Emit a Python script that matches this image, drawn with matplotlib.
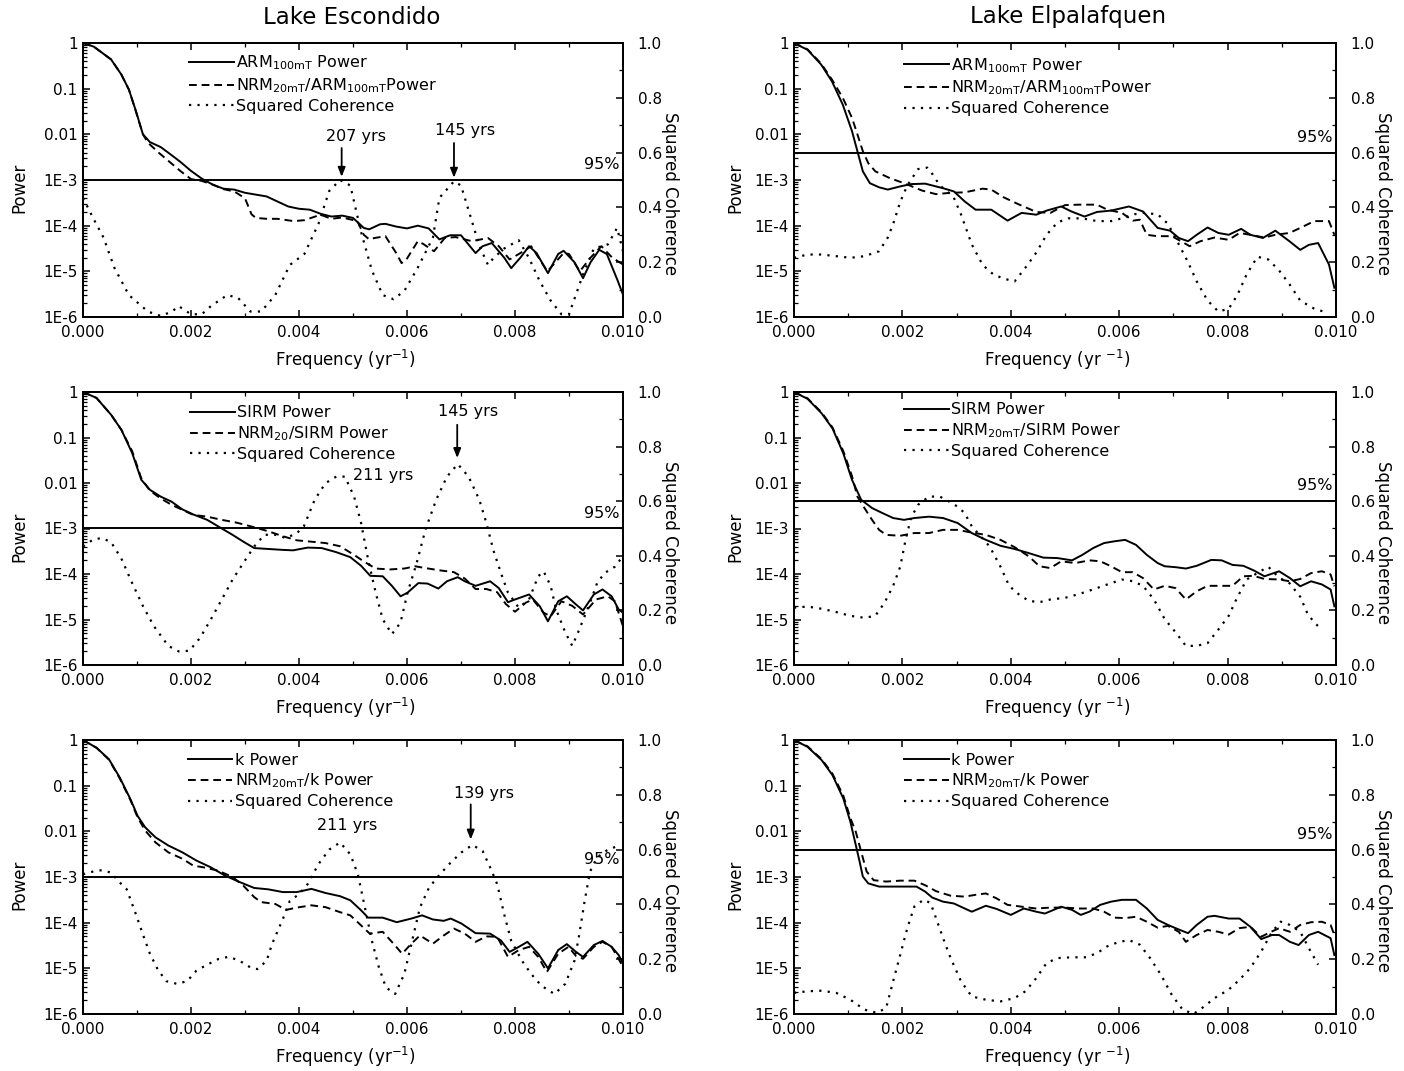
import numpy as np
import matplotlib
matplotlib.use('Agg')
import matplotlib.pyplot as plt
from matplotlib.ticker import (FixedLocator, FixedFormatter, MultipleLocator,
                               FormatStrFormatter, LogLocator, NullFormatter)

plt.rcParams['font.family'] = ['DejaVu Sans']
plt.rcParams['mathtext.fontset'] = 'dejavusans'

# ---------------- data (power given as log10 values, coherence linear) -------------
# Lake Escondido, ARM panel
esc_arm_f = [0, 0.0002, 0.00052, 0.00071, 0.00085, 0.00098, 0.00111, 0.00124, 0.00144, 0.0016,
             0.0018, 0.002, 0.0022, 0.0024, 0.0026, 0.0028, 0.003, 0.0032, 0.0034, 0.0036,
             0.0038, 0.004, 0.0042, 0.0044, 0.0046, 0.0048, 0.005, 0.0052, 0.0053, 0.0055,
             0.0056, 0.0058, 0.006, 0.0062, 0.0064, 0.0066, 0.0068, 0.007, 0.0072, 0.00727,
             0.0074, 0.00757, 0.0078, 0.00793, 0.0081, 0.00826, 0.0084, 0.00861, 0.0088, 0.0089,
             0.0091, 0.00926, 0.0094, 0.00956, 0.0097, 0.0099, 0.01]
esc_arm_logp = [0, -0.08, -0.36, -0.69, -1.02, -1.49, -2.0, -2.17, -2.28, -2.42,
                -2.6, -2.8, -2.97, -3.1, -3.19, -3.21, -3.28, -3.32, -3.36, -3.47,
                -3.58, -3.63, -3.65, -3.74, -3.8, -3.78, -3.83, -4.05, -4.08, -3.97,
                -3.96, -4.02, -4.06, -4.0, -4.06, -4.3, -4.21, -4.21, -4.5, -4.6,
                -4.45, -4.38, -4.7, -4.93, -4.7, -4.45, -4.6, -5.04, -4.62, -4.55,
                -4.8, -5.15, -4.8, -4.53, -4.62, -5.2, -5.51]
esc_nrmarm_f = [0, 0.0002, 0.00052, 0.00071, 0.00085, 0.00098, 0.00111, 0.0012, 0.0014, 0.0016,
                0.0018, 0.002, 0.0022, 0.0024, 0.0026, 0.0028, 0.003, 0.00312, 0.0032, 0.0034,
                0.0036, 0.0039, 0.0041, 0.0044, 0.0046, 0.0048, 0.00508, 0.0052, 0.0053, 0.0054,
                0.0056, 0.0058, 0.0059, 0.006, 0.0062, 0.0063, 0.0065, 0.0067, 0.0069, 0.0072,
                0.0075, 0.0077, 0.0079, 0.0081, 0.0083, 0.0086, 0.0089, 0.009, 0.0092, 0.0094,
                0.0096, 0.0098, 0.01]
esc_nrmarm_logp = [0, -0.08, -0.36, -0.69, -1.02, -1.5, -2.0, -2.18, -2.4, -2.6,
                   -2.8, -2.98, -3.02, -3.1, -3.2, -3.25, -3.4, -3.75, -3.83, -3.85,
                   -3.85, -3.9, -3.88, -3.76, -3.85, -3.82, -3.9, -4.2, -4.3, -4.27,
                   -4.23, -4.6, -4.82, -4.72, -4.34, -4.4, -4.56, -4.27, -4.25, -4.34,
                   -4.27, -4.45, -4.74, -4.6, -4.45, -5.0, -4.6, -4.62, -5.0, -4.7,
                   -4.45, -4.7, -4.85]
esc_arm_coh_f = [0, 0.00019, 0.00038, 0.00058, 0.00085, 0.00105, 0.0012, 0.00144, 0.00165, 0.00177,
                 0.002, 0.0022, 0.00237, 0.00267, 0.00287, 0.0031, 0.0033, 0.00356, 0.00383, 0.0041,
                 0.00436, 0.00456, 0.00476, 0.00495, 0.00515, 0.00535, 0.00555, 0.00575, 0.00595, 0.0062,
                 0.00648, 0.0066, 0.00687, 0.007, 0.00714, 0.00734, 0.0075, 0.0076, 0.0078, 0.00807,
                 0.00826, 0.00846, 0.00866, 0.00886, 0.009, 0.00926, 0.00946, 0.00972, 0.00989, 0.01]
esc_arm_coh = [0.435, 0.36, 0.29, 0.18, 0.08, 0.046, 0.02, 0.004, 0.02, 0.04,
               0.01, 0.01, 0.04, 0.08, 0.07, 0.02, 0.02, 0.08, 0.19, 0.23,
               0.34, 0.46, 0.5, 0.48, 0.31, 0.17, 0.08, 0.065, 0.095, 0.18,
               0.29, 0.435, 0.495, 0.48, 0.39, 0.26, 0.19, 0.215, 0.25, 0.28,
               0.215, 0.13, 0.06, 0.01, 0.01, 0.155, 0.25, 0.265, 0.325, 0.24]

# Lake Elpalafquen, ARM panel
elp_arm_f = [0, 0.00025, 0.0005, 0.0007, 0.0009, 0.00107, 0.00117, 0.00127, 0.0014, 0.00157,
             0.00173, 0.00196, 0.00216, 0.00242, 0.00275, 0.00295, 0.00315, 0.00335, 0.00364, 0.00394,
             0.0042, 0.00447, 0.00466, 0.00493, 0.00512, 0.00536, 0.00559, 0.00585, 0.00618, 0.00644,
             0.00671, 0.00694, 0.0071, 0.00727, 0.00743, 0.00763, 0.00783, 0.00802, 0.00825, 0.00842,
             0.00865, 0.00888, 0.00914, 0.00934, 0.0095, 0.00967, 0.00987, 0.00997]
elp_arm_logp = [0, -0.15, -0.47, -0.84, -1.35, -1.93, -2.37, -2.81, -3.07, -3.16,
                -3.21, -3.14, -3.09, -3.08, -3.18, -3.25, -3.47, -3.65, -3.65, -3.89,
                -3.72, -3.76, -3.67, -3.58, -3.69, -3.8, -3.7, -3.67, -3.58, -3.69,
                -4.05, -4.11, -4.27, -4.34, -4.2, -4.04, -4.16, -4.2, -4.07, -4.2,
                -4.27, -4.11, -4.34, -4.53, -4.42, -4.38, -4.85, -5.36]
elp_nrmarm_f = [0, 0.00025, 0.0005, 0.0007, 0.0009, 0.00107, 0.00117, 0.00127, 0.00137, 0.0015,
                0.00177, 0.00203, 0.00236, 0.00262, 0.00289, 0.00315, 0.00348, 0.00364, 0.00387, 0.00414,
                0.00447, 0.00473, 0.005, 0.00526, 0.00559, 0.00578, 0.00605, 0.00625, 0.00638, 0.00651,
                0.0067, 0.00697, 0.00717, 0.0073, 0.0075, 0.00776, 0.00802, 0.00822, 0.00842, 0.00868,
                0.00888, 0.00914, 0.00934, 0.0096, 0.00987, 0.00997]
elp_nrmarm_logp = [0, -0.14, -0.45, -0.8, -1.2, -1.64, -2.0, -2.37, -2.63, -2.81,
                   -2.96, -3.07, -3.23, -3.31, -3.28, -3.27, -3.19, -3.21, -3.38, -3.53,
                   -3.7, -3.72, -3.55, -3.54, -3.54, -3.65, -3.72, -3.89, -3.87, -4.2,
                   -4.23, -4.23, -4.36, -4.45, -4.34, -4.26, -4.31, -4.16, -4.2, -4.26,
                   -4.2, -4.16, -4.05, -3.9, -3.9, -4.2]
elp_arm_coh_f = [0, 0.00025, 0.0005, 0.00078, 0.00104, 0.0013, 0.00157, 0.00173, 0.00183, 0.00196,
                 0.00209, 0.00229, 0.00246, 0.00256, 0.00269, 0.00282, 0.00295, 0.00308, 0.00328, 0.00348,
                 0.00368, 0.00387, 0.00407, 0.00427, 0.00447, 0.00466, 0.00486, 0.00506, 0.00532, 0.00559,
                 0.00585, 0.00605, 0.00628, 0.00644, 0.00671, 0.0069, 0.0071, 0.00727, 0.00743, 0.00763,
                 0.00783, 0.00802, 0.00818, 0.00835, 0.00855, 0.00875, 0.00895, 0.00914, 0.00934, 0.0096,
                 0.00977]
elp_arm_coh = [0.216, 0.228, 0.228, 0.222, 0.216, 0.222, 0.24, 0.29, 0.34, 0.42,
               0.48, 0.54, 0.545, 0.52, 0.48, 0.46, 0.435, 0.375, 0.265, 0.19,
               0.155, 0.14, 0.13, 0.18, 0.235, 0.30, 0.345, 0.36, 0.36, 0.35,
               0.35, 0.36, 0.375, 0.38, 0.375, 0.34, 0.265, 0.2, 0.13, 0.06,
               0.02, 0.03, 0.08, 0.155, 0.22, 0.21, 0.17, 0.12, 0.06, 0.03,
               0.02]

# Lake Escondido, SIRM panel
esc_sirm_f = [0, 0.00025, 0.00052, 0.00071, 0.00091, 0.00108, 0.00124, 0.00144, 0.00164, 0.00184,
              0.00204, 0.0023, 0.00257, 0.00277, 0.00297, 0.00317, 0.00343, 0.0037, 0.00389, 0.00416,
              0.00442, 0.00469, 0.00495, 0.00515, 0.00532, 0.00555, 0.00572, 0.00588, 0.00601, 0.00621,
              0.00638, 0.00658, 0.00674, 0.00694, 0.00707, 0.00727, 0.00754, 0.0077, 0.00787, 0.008,
              0.00826, 0.00846, 0.00861, 0.0088, 0.00896, 0.00913, 0.00926, 0.00946, 0.00962, 0.00979,
              0.00992, 0.01]
esc_sirm_logp = [0, -0.13, -0.5, -0.83, -1.34, -1.93, -2.15, -2.3, -2.41, -2.58,
                 -2.69, -2.81, -3.0, -3.14, -3.29, -3.43, -3.45, -3.47, -3.48, -3.42,
                 -3.43, -3.52, -3.63, -3.82, -4.04, -4.05, -4.26, -4.49, -4.41, -4.2,
                 -4.21, -4.32, -4.16, -4.07, -4.16, -4.26, -4.16, -4.31, -4.62, -4.56,
                 -4.45, -4.71, -5.04, -4.6, -4.49, -4.67, -4.8, -4.45, -4.34, -4.49,
                 -4.78, -4.85]
esc_nrmsirm_f = [0, 0.00025, 0.00052, 0.00071, 0.00091, 0.00108, 0.00124, 0.00144, 0.00164, 0.00184,
                 0.00204, 0.0023, 0.00257, 0.00284, 0.0031, 0.00343, 0.0037, 0.00396, 0.00423, 0.00449,
                 0.00476, 0.00502, 0.00522, 0.00542, 0.00568, 0.00595, 0.00615, 0.00634, 0.00661, 0.00687,
                 0.00707, 0.00727, 0.00747, 0.00767, 0.00783, 0.008, 0.0082, 0.00833, 0.00853, 0.00866,
                 0.00886, 0.00906, 0.00926, 0.0095, 0.00972, 0.00985, 0.01]
esc_nrmsirm_logp = [0, -0.13, -0.5, -0.83, -1.3, -1.9, -2.17, -2.34, -2.48, -2.59,
                    -2.7, -2.74, -2.81, -2.87, -2.95, -3.06, -3.17, -3.26, -3.29, -3.32,
                    -3.39, -3.58, -3.74, -3.88, -3.9, -3.88, -3.83, -3.87, -3.92, -3.96,
                    -4.1, -4.33, -4.33, -4.4, -4.66, -4.83, -4.63, -4.56, -4.85, -4.93,
                    -4.6, -4.7, -4.89, -4.56, -4.49, -4.6, -5.15]
esc_sirm_coh_f = [0, 0.00019, 0.00035, 0.00052, 0.00071, 0.00091, 0.00111, 0.00131, 0.00158, 0.00177,
                  0.00197, 0.00217, 0.00237, 0.00257, 0.00277, 0.00297, 0.00317, 0.00336, 0.00356, 0.00376,
                  0.00396, 0.00409, 0.00429, 0.00449, 0.00469, 0.00485, 0.00502, 0.00515, 0.00528, 0.00542,
                  0.00555, 0.00572, 0.00588, 0.00601, 0.00618, 0.00634, 0.00654, 0.00674, 0.00694, 0.00714,
                  0.00734, 0.00747, 0.0076, 0.00774, 0.00787, 0.00807, 0.00826, 0.00843, 0.00853, 0.00866,
                  0.00876, 0.00893, 0.00906, 0.00919, 0.00939, 0.00952, 0.00966, 0.00985, 0.00995]
esc_sirm_coh = [0.434, 0.46, 0.465, 0.45, 0.39, 0.30, 0.216, 0.143, 0.07, 0.05,
                0.052, 0.1, 0.168, 0.24, 0.313, 0.374, 0.434, 0.477, 0.477, 0.465,
                0.483, 0.508, 0.605, 0.666, 0.69, 0.69, 0.617, 0.52, 0.386, 0.265,
                0.168, 0.113, 0.155, 0.265, 0.374, 0.495, 0.605, 0.69, 0.736, 0.69,
                0.605, 0.52, 0.42, 0.337, 0.265, 0.21, 0.24, 0.325, 0.343, 0.29,
                0.204, 0.12, 0.07, 0.13, 0.228, 0.3, 0.337, 0.36, 0.386]

# Lake Elpalafquen, SIRM panel
elp_sirm_f = [0, 0.00025, 0.00051, 0.00071, 0.00091, 0.00107, 0.00124, 0.00144, 0.00163, 0.00183,
              0.00203, 0.00222, 0.00249, 0.00275, 0.00302, 0.00328, 0.00354, 0.00381, 0.00407, 0.00433,
              0.0046, 0.00486, 0.00513, 0.00532, 0.00552, 0.00572, 0.00592, 0.00611, 0.00631, 0.00651,
              0.00671, 0.00684, 0.00704, 0.00723, 0.00743, 0.0077, 0.00789, 0.00809, 0.00829, 0.00848,
              0.00868, 0.00895, 0.00915, 0.00934, 0.00954, 0.00974, 0.0099, 0.00997]
elp_sirm_logp = [0, -0.15, -0.47, -0.8, -1.35, -1.93, -2.37, -2.55, -2.66, -2.77,
                 -2.81, -2.77, -2.74, -2.77, -2.88, -3.1, -3.25, -3.38, -3.45, -3.54,
                 -3.64, -3.65, -3.7, -3.58, -3.43, -3.32, -3.28, -3.25, -3.36, -3.58,
                 -3.76, -3.83, -3.85, -3.88, -3.82, -3.69, -3.7, -3.8, -3.82, -3.92,
                 -4.05, -3.94, -4.09, -4.27, -4.16, -4.23, -4.34, -4.71]
elp_nrmsirm_f = [0, 0.00025, 0.00051, 0.00071, 0.00091, 0.00107, 0.00117, 0.0013, 0.00144, 0.00157,
                 0.0017, 0.00196, 0.00222, 0.00249, 0.00275, 0.00302, 0.00328, 0.00354, 0.00381, 0.00407,
                 0.00433, 0.00453, 0.00473, 0.00493, 0.00519, 0.00545, 0.00565, 0.00585, 0.00605, 0.00625,
                 0.00644, 0.00664, 0.00684, 0.00704, 0.00723, 0.00743, 0.00763, 0.00783, 0.00809, 0.00829,
                 0.00848, 0.00868, 0.00895, 0.00915, 0.00934, 0.00954, 0.00974, 0.0099, 0.00997]
elp_nrmsirm_logp = [0, -0.14, -0.45, -0.78, -1.3, -1.85, -2.3, -2.55, -2.81, -3.03,
                    -3.14, -3.16, -3.1, -3.1, -3.03, -3.03, -3.09, -3.14, -3.25, -3.41,
                    -3.61, -3.83, -3.87, -3.72, -3.76, -3.7, -3.72, -3.83, -3.96, -3.96,
                    -4.09, -4.34, -4.26, -4.31, -4.56, -4.38, -4.26, -4.26, -4.26, -4.05,
                    -4.04, -4.11, -4.12, -4.16, -4.11, -3.98, -3.94, -4.01, -4.27]
elp_sirm_coh_f = [0, 0.00025, 0.00051, 0.00078, 0.00104, 0.0013, 0.0015, 0.00167, 0.00183, 0.00196,
                  0.00206, 0.00216, 0.00229, 0.00249, 0.00269, 0.00285, 0.00302, 0.00315, 0.00328, 0.00345,
                  0.00361, 0.00381, 0.00397, 0.00414, 0.00433, 0.00453, 0.00473, 0.005, 0.00526, 0.00552,
                  0.00578, 0.00605, 0.00625, 0.00644, 0.00664, 0.00684, 0.00704, 0.00723, 0.00743, 0.00763,
                  0.00783, 0.00802, 0.00816, 0.00835, 0.00855, 0.00875, 0.00895, 0.00914, 0.00934, 0.00947,
                  0.0096, 0.00974]
elp_sirm_coh = [0.21, 0.214, 0.206, 0.194, 0.18, 0.173, 0.18, 0.228, 0.29, 0.36,
                0.46, 0.54, 0.587, 0.617, 0.617, 0.6, 0.58, 0.556, 0.508, 0.47,
                0.434, 0.36, 0.29, 0.26, 0.235, 0.23, 0.24, 0.246, 0.26, 0.277,
                0.295, 0.313, 0.307, 0.29, 0.24, 0.168, 0.12, 0.07, 0.07, 0.08,
                0.13, 0.18, 0.24, 0.313, 0.337, 0.36, 0.32, 0.3, 0.25, 0.19,
                0.155, 0.13]

# Lake Escondido, k panel
esc_k_f = [0, 0.00025, 0.00048, 0.00068, 0.00088, 0.00101, 0.00115, 0.00134, 0.00158, 0.00184,
           0.0021, 0.00237, 0.00263, 0.0029, 0.00317, 0.00343, 0.0037, 0.00396, 0.00423, 0.00449,
           0.00476, 0.00495, 0.00515, 0.00528, 0.00555, 0.00581, 0.00608, 0.00628, 0.00648, 0.00668,
           0.00681, 0.00701, 0.00727, 0.00754, 0.00774, 0.0079, 0.00807, 0.00823, 0.00843, 0.00861,
           0.0088, 0.00896, 0.00913, 0.00926, 0.00946, 0.00962, 0.00979, 0.00992, 0.01]
esc_k_logp = [0, -0.17, -0.42, -0.82, -1.3, -1.66, -1.91, -2.13, -2.31, -2.46,
              -2.64, -2.79, -2.97, -3.11, -3.24, -3.27, -3.33, -3.33, -3.26, -3.35,
              -3.42, -3.51, -3.73, -3.89, -3.89, -3.99, -3.91, -3.84, -3.93, -3.96,
              -3.91, -4.02, -4.23, -4.24, -4.39, -4.64, -4.53, -4.42, -4.68, -5.0,
              -4.6, -4.47, -4.64, -4.75, -4.49, -4.4, -4.53, -4.71, -4.89]
esc_nrmk_f = [0, 0.00025, 0.00048, 0.00068, 0.00088, 0.00101, 0.00115, 0.00134, 0.00158, 0.00184,
              0.00204, 0.00224, 0.0025, 0.00277, 0.00297, 0.00317, 0.0033, 0.00356, 0.00376, 0.00396,
              0.00423, 0.00449, 0.00476, 0.00495, 0.00515, 0.00531, 0.00555, 0.00575, 0.00591, 0.00608,
              0.00624, 0.00648, 0.00668, 0.00687, 0.00707, 0.00727, 0.00747, 0.00767, 0.00787, 0.00807,
              0.00826, 0.00843, 0.00859, 0.0088, 0.00899, 0.00913, 0.00926, 0.00946, 0.00962, 0.00979,
              0.00995, 0.01]
esc_nrmk_logp = [0, -0.17, -0.43, -0.84, -1.32, -1.69, -1.98, -2.24, -2.46, -2.6,
                 -2.75, -2.79, -2.86, -3.0, -3.19, -3.44, -3.55, -3.59, -3.72, -3.67,
                 -3.62, -3.66, -3.77, -3.84, -4.06, -4.24, -4.2, -4.46, -4.68, -4.46,
                 -4.28, -4.46, -4.28, -4.13, -4.24, -4.42, -4.3, -4.31, -4.75, -4.6,
                 -4.53, -4.75, -5.08, -4.68, -4.53, -4.73, -4.79, -4.53, -4.42, -4.53,
                 -4.86, -4.97]
esc_k_coh_f = [0, 0.00019, 0.00035, 0.00052, 0.00065, 0.00081, 0.00098, 0.00111, 0.00124, 0.00138,
               0.00154, 0.00174, 0.00193, 0.0021, 0.0023, 0.0025, 0.0027, 0.0029, 0.0031, 0.00323,
               0.0034, 0.0035, 0.0037, 0.00383, 0.004, 0.00416, 0.00436, 0.00456, 0.00476, 0.00495,
               0.00509, 0.00522, 0.00535, 0.00548, 0.00561, 0.00578, 0.00595, 0.00611, 0.00624, 0.00641,
               0.00661, 0.00681, 0.00701, 0.00721, 0.0074, 0.00754, 0.00767, 0.0078, 0.00793, 0.00813,
               0.0083, 0.00849, 0.00873, 0.00893, 0.0091, 0.00919, 0.00929, 0.00939, 0.00952, 0.00972,
               0.00992]
esc_k_coh = [0.51, 0.52, 0.525, 0.516, 0.486, 0.455, 0.364, 0.29, 0.22, 0.164,
             0.12, 0.11, 0.12, 0.158, 0.18, 0.2, 0.209, 0.194, 0.17, 0.164,
             0.194, 0.255, 0.346, 0.413, 0.437, 0.474, 0.547, 0.6, 0.626, 0.583,
             0.51, 0.389, 0.267, 0.17, 0.097, 0.073, 0.146, 0.28, 0.389, 0.462,
             0.51, 0.553, 0.59, 0.617, 0.595, 0.535, 0.474, 0.364, 0.267, 0.194,
             0.146, 0.103, 0.073, 0.11, 0.194, 0.29, 0.413, 0.52, 0.571, 0.6,
             0.614]

# Lake Elpalafquen, k panel
elp_k_f = [0, 0.00025, 0.00051, 0.00071, 0.00091, 0.00104, 0.00114, 0.00121, 0.00127, 0.00137,
           0.00157, 0.00183, 0.00209, 0.00226, 0.00242, 0.00255, 0.00275, 0.00295, 0.00315, 0.00328,
           0.00354, 0.00374, 0.004, 0.00424, 0.00447, 0.00463, 0.00493, 0.00513, 0.00529, 0.00545,
           0.00565, 0.00585, 0.00605, 0.00631, 0.00651, 0.00671, 0.0069, 0.0071, 0.00727, 0.00743,
           0.00763, 0.00776, 0.00802, 0.00822, 0.00842, 0.00862, 0.00882, 0.00895, 0.00915, 0.00931,
           0.0095, 0.00967, 0.0099, 0.00997]
elp_k_logp = [0, -0.15, -0.44, -0.77, -1.28, -1.79, -2.3, -2.66, -2.99, -3.14,
              -3.21, -3.21, -3.21, -3.21, -3.32, -3.45, -3.54, -3.58, -3.69, -3.76,
              -3.63, -3.7, -3.83, -3.69, -3.76, -3.8, -3.65, -3.72, -3.83, -3.76,
              -3.61, -3.54, -3.5, -3.5, -3.69, -3.94, -4.05, -4.15, -4.23, -4.05,
              -3.87, -3.85, -3.91, -3.91, -4.09, -4.36, -4.27, -4.27, -4.42, -4.49,
              -4.27, -4.2, -4.34, -4.71]
elp_nrmk_f = [0, 0.00025, 0.00051, 0.00071, 0.00091, 0.00104, 0.00114, 0.00124, 0.00134, 0.00147,
              0.0017, 0.00196, 0.00222, 0.00242, 0.00262, 0.00289, 0.00315, 0.00335, 0.00354, 0.00374,
              0.00394, 0.0042, 0.00447, 0.00473, 0.005, 0.00526, 0.00552, 0.00572, 0.00592, 0.00611,
              0.00631, 0.00651, 0.00671, 0.0069, 0.0071, 0.00723, 0.00743, 0.00763, 0.00783, 0.00802,
              0.00822, 0.00842, 0.00862, 0.00875, 0.00895, 0.00915, 0.00934, 0.00954, 0.00974, 0.0099,
              0.00997]
elp_nrmk_logp = [0, -0.14, -0.42, -0.74, -1.22, -1.71, -2.01, -2.45, -2.88, -3.07,
                 -3.1, -3.08, -3.08, -3.18, -3.31, -3.41, -3.43, -3.39, -3.36, -3.47,
                 -3.61, -3.65, -3.69, -3.67, -3.67, -3.69, -3.69, -3.76, -3.89, -3.9,
                 -3.87, -3.98, -4.11, -4.07, -4.2, -4.42, -4.27, -4.16, -4.2, -4.26,
                 -4.12, -4.09, -4.31, -4.23, -4.12, -4.2, -4.05, -3.99, -3.98, -4.05,
                 -4.27]
elp_k_coh_f = [0, 0.00025, 0.00051, 0.00078, 0.00104, 0.0013, 0.00153, 0.0017, 0.00183, 0.00196,
               0.00209, 0.00222, 0.00239, 0.00252, 0.00262, 0.00275, 0.00289, 0.00308, 0.00328, 0.00354,
               0.00381, 0.00407, 0.00427, 0.00447, 0.00466, 0.00486, 0.00513, 0.00539, 0.00559, 0.00578,
               0.00598, 0.00618, 0.00638, 0.00657, 0.00677, 0.00697, 0.00717, 0.00737, 0.00753, 0.00776,
               0.00802, 0.00822, 0.00842, 0.00862, 0.00882, 0.00898, 0.00915, 0.00934, 0.0095, 0.00967]
elp_k_coh = [0.077, 0.083, 0.085, 0.077, 0.052, 0.016, 0.004, 0.022, 0.12, 0.216,
             0.313, 0.392, 0.417, 0.405, 0.35, 0.277, 0.204, 0.12, 0.064, 0.052,
             0.046, 0.058, 0.083, 0.131, 0.186, 0.204, 0.207, 0.207, 0.222, 0.247,
             0.262, 0.27, 0.253, 0.204, 0.143, 0.07, 0.016, 0.0, 0.022, 0.058,
             0.089, 0.125, 0.168, 0.228, 0.3, 0.337, 0.325, 0.3, 0.24, 0.18]

# 95% significance levels of squared coherence
esc_sig95 = 0.5
elp_sig95 = 0.6

# tick labels
power_ticks = [1, 0.1, 0.01, 1e-3, 1e-4, 1e-5, 1e-6]
power_ticklabels = ['1', '0.1', '0.01', '1E-3', '1E-4', '1E-5', '1E-6']

titles = ['Lake Escondido', 'Lake Elpalafquen']

# ---------------- figure ----------------
W, H = 1404, 1071
fig = plt.figure(figsize=(W / 100, H / 100), dpi=100)
fig.patch.set_facecolor('white')


def px_rect(x0, x1, y0, y1):
    return [x0 / W, 1 - y1 / H, (x1 - x0) / W, (y1 - y0) / H]


col_x = [(83, 623), (794, 1336)]
row_y = [(43, 317), (392, 665), (740, 1014)]

FS_TICK = 11
FS_LEG = 11.5
FS_LAB = 12


def draw_panel(col, row, sf, sv, df, dv, cf, cv, sig, labels, annots,
               xlabel, leg_anchor, pct_y):
    x0, x1 = col_x[col]
    y0, y1 = row_y[row]
    ax = fig.add_axes(px_rect(x0, x1, y0, y1))
    ax.set_yscale('log')
    ax.set_xlim(0, 0.010)
    ax.set_ylim(1e-6, 1)
    ax2 = ax.twinx()
    ax2.set_ylim(0, 1)

    l1, = ax.plot(sf, 10.0 ** np.asarray(sv), color='k', lw=1.4, ls='-')
    l2, = ax.plot(df, 10.0 ** np.asarray(dv), color='k', lw=1.4, ls=(0, (4, 2.5)))
    l3, = ax2.plot(cf, cv, color='k', lw=1.6, ls=(0, (1, 2.8)))
    ax2.axhline(sig, color='k', lw=1.4)

    # ticks
    ax.yaxis.set_major_locator(FixedLocator(power_ticks))
    ax.yaxis.set_major_formatter(FixedFormatter(power_ticklabels))
    ax.yaxis.set_minor_locator(LogLocator(base=10, subs=np.arange(2, 10)))
    ax.yaxis.set_minor_formatter(NullFormatter())
    ax.xaxis.set_major_locator(MultipleLocator(0.002))
    ax.xaxis.set_minor_locator(MultipleLocator(0.001))
    ax.xaxis.set_major_formatter(FormatStrFormatter('%.3f'))
    ax2.yaxis.set_major_locator(MultipleLocator(0.2))
    ax2.yaxis.set_minor_locator(MultipleLocator(0.1))
    ax2.yaxis.set_major_formatter(FormatStrFormatter('%.1f'))

    ax.tick_params(axis='both', which='both', direction='in', top=True, right=False,
                   labelsize=FS_TICK, pad=4)
    ax.tick_params(axis='x', which='both', pad=5.5)
    ax.tick_params(which='major', length=5, width=1.1)
    ax.tick_params(which='minor', length=3, width=0.9)
    ax2.tick_params(axis='y', which='both', direction='in', labelsize=FS_TICK, pad=10.5)
    ax2.tick_params(which='major', length=5, width=1.1)
    ax2.tick_params(which='minor', length=3, width=0.9)
    for a in (ax, ax2):
        for s in a.spines.values():
            s.set_linewidth(1.4)

    ax2.legend([l1, l2, l3], labels, loc='upper left', bbox_to_anchor=leg_anchor,
               frameon=False, fontsize=FS_LEG, borderpad=0, borderaxespad=0,
               handlelength=2.8, handletextpad=0.15, labelspacing=0.25)

    ax.text(0.00993, 10 ** pct_y, '95%', ha='right', va='center', fontsize=FS_LEG)

    for (txt, tx, ty, ax_f, a_from, a_to) in annots:
        ax.text(tx, 10 ** ty, txt, ha='center', va='center', fontsize=FS_LEG)
        if ax_f is not None:
            ax.annotate('', xy=(ax_f, 10 ** a_to), xytext=(ax_f, 10 ** a_from),
                        arrowprops=dict(arrowstyle='-|>,head_length=0.55,head_width=0.22',
                                        color='k', lw=1.3, shrinkA=0, shrinkB=0))

    # axis labels
    cy = (y0 + y1) / 2
    fig.text((x0 - 64 if col == 0 else x0 - 59) / W, 1 - (cy + 8) / H, 'Power',
             rotation=90, ha='center', va='center', fontsize=FS_LAB)
    fig.text((x1 + 47) / W, 1 - (cy + 14) / H, 'Squared Coherence',
             rotation=-90, ha='center', va='center', fontsize=FS_LAB)
    fig.text(((x0 + x1) / 2 - 8) / W, 1 - (y1 + 43) / H, xlabel,
             ha='center', va='center', fontsize=FS_LAB)
    return ax, ax2


lab_arm_esc = [r'ARM$_{\mathrm{100mT}}$ Power',
               r'NRM$_{\mathrm{20mT}}$/ARM$_{\mathrm{100mT}}$Power',
               'Squared Coherence']
lab_arm_elp = lab_arm_esc
lab_sirm_esc = ['SIRM Power', r'NRM$_{\mathrm{20}}$/SIRM Power', 'Squared Coherence']
lab_sirm_elp = ['SIRM Power', r'NRM$_{\mathrm{20mT}}$/SIRM Power', 'Squared Coherence']
lab_k = ['k Power', r'NRM$_{\mathrm{20mT}}$/k Power', 'Squared Coherence']

xl_left = r'Frequency (yr$^{-1}$)'
xl_right = r'Frequency (yr $^{-1}$)'

# annotations: (text, text_x, text_log10y, arrow_x, arrow_from_log10, arrow_to_log10)
ann_esc_arm = [('207 yrs', 0.00505, -2.04, 0.00479, -2.30, -2.93),
               ('145 yrs', 0.00708, -1.92, 0.00687, -2.19, -2.95)]
ann_esc_sirm = [('145 yrs', 0.00714, -0.42, 0.00693, -0.72, -1.45),
                ('211 yrs', 0.00556, -1.84, None, 0, 0)]
ann_esc_k = [('211 yrs', 0.0049, -1.87, None, 0, 0),
             ('139 yrs', 0.00742, -1.17, 0.00718, -1.41, -2.18)]

draw_panel(0, 0, esc_arm_f, esc_arm_logp, esc_nrmarm_f, esc_nrmarm_logp,
           esc_arm_coh_f, esc_arm_coh, esc_sig95, lab_arm_esc, ann_esc_arm,
           xl_left, (0.197, 0.962), -2.66)
draw_panel(1, 0, elp_arm_f, elp_arm_logp, elp_nrmarm_f, elp_nrmarm_logp,
           elp_arm_coh_f, elp_arm_coh, elp_sig95, lab_arm_elp, [],
           xl_right, (0.203, 0.953), -2.06)
draw_panel(0, 1, esc_sirm_f, esc_sirm_logp, esc_nrmsirm_f, esc_nrmsirm_logp,
           esc_sirm_coh_f, esc_sirm_coh, esc_sig95, lab_sirm_esc, ann_esc_sirm,
           xl_left, (0.198, 0.951), -2.66)
draw_panel(1, 1, elp_sirm_f, elp_sirm_logp, elp_nrmsirm_f, elp_nrmsirm_logp,
           elp_sirm_coh_f, elp_sirm_coh, elp_sig95, lab_sirm_elp, [],
           xl_right, (0.203, 0.963), -2.05)
draw_panel(0, 2, esc_k_f, esc_k_logp, esc_nrmk_f, esc_nrmk_logp,
           esc_k_coh_f, esc_k_coh, esc_sig95, lab_k, ann_esc_k,
           xl_left, (0.194, 0.954), -2.62)
draw_panel(1, 2, elp_k_f, elp_k_logp, elp_nrmk_f, elp_nrmk_logp,
           elp_k_coh_f, elp_k_coh, elp_sig95, lab_k, [],
           xl_right, (0.203, 0.954), -2.08)

fig.text(352 / W, 1 - 17 / H, titles[0], ha='center', va='center', fontsize=16.5)
fig.text(1068 / W, 1 - 17 / H, titles[1], ha='center', va='center', fontsize=16.5)

fig.savefig('out.png', dpi=100, facecolor='white')
